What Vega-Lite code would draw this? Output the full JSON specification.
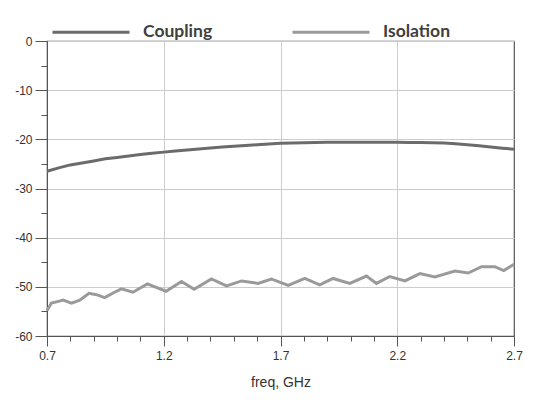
{
  "$schema": "https://vega.github.io/schema/vega-lite/v6.json",
  "width": 467,
  "height": 295,
  "autosize": {"type": "none"},
  "padding": {"left": 47, "top": 41, "right": 21, "bottom": 64},
  "background": "white",
  "config": {
    "view": {"stroke": "#555555", "strokeWidth": 1.2},
    "axis": {"labelFont": "Liberation Sans", "titleFont": "Liberation Sans", "labelColor": "#333333", "titleColor": "#333333", "domainColor": "#555555", "tickColor": "#555555", "gridColor": "#cccccc"},
    "legend": {"labelFont": "Lato", "labelFontWeight": "bold", "labelFontSize": 17.5, "labelColor": "#404040"}
  },
  "data": {
    "values": [
      {"f": 0.7, "v": -26.5, "s": "Coupling"},
      {"f": 0.75, "v": -25.8, "s": "Coupling"},
      {"f": 0.8, "v": -25.2, "s": "Coupling"},
      {"f": 0.85, "v": -24.8, "s": "Coupling"},
      {"f": 0.9, "v": -24.4, "s": "Coupling"},
      {"f": 0.95, "v": -23.95, "s": "Coupling"},
      {"f": 1.0, "v": -23.7, "s": "Coupling"},
      {"f": 1.05, "v": -23.4, "s": "Coupling"},
      {"f": 1.1, "v": -23.1, "s": "Coupling"},
      {"f": 1.15, "v": -22.85, "s": "Coupling"},
      {"f": 1.2, "v": -22.6, "s": "Coupling"},
      {"f": 1.25, "v": -22.35, "s": "Coupling"},
      {"f": 1.3, "v": -22.15, "s": "Coupling"},
      {"f": 1.35, "v": -21.95, "s": "Coupling"},
      {"f": 1.4, "v": -21.75, "s": "Coupling"},
      {"f": 1.45, "v": -21.55, "s": "Coupling"},
      {"f": 1.5, "v": -21.4, "s": "Coupling"},
      {"f": 1.55, "v": -21.25, "s": "Coupling"},
      {"f": 1.6, "v": -21.1, "s": "Coupling"},
      {"f": 1.65, "v": -20.95, "s": "Coupling"},
      {"f": 1.7, "v": -20.8, "s": "Coupling"},
      {"f": 1.75, "v": -20.75, "s": "Coupling"},
      {"f": 1.8, "v": -20.7, "s": "Coupling"},
      {"f": 1.85, "v": -20.62, "s": "Coupling"},
      {"f": 1.9, "v": -20.6, "s": "Coupling"},
      {"f": 2.0, "v": -20.6, "s": "Coupling"},
      {"f": 2.1, "v": -20.6, "s": "Coupling"},
      {"f": 2.2, "v": -20.6, "s": "Coupling"},
      {"f": 2.25, "v": -20.62, "s": "Coupling"},
      {"f": 2.3, "v": -20.65, "s": "Coupling"},
      {"f": 2.35, "v": -20.7, "s": "Coupling"},
      {"f": 2.4, "v": -20.75, "s": "Coupling"},
      {"f": 2.45, "v": -20.9, "s": "Coupling"},
      {"f": 2.5, "v": -21.1, "s": "Coupling"},
      {"f": 2.55, "v": -21.3, "s": "Coupling"},
      {"f": 2.6, "v": -21.55, "s": "Coupling"},
      {"f": 2.65, "v": -21.8, "s": "Coupling"},
      {"f": 2.7, "v": -22.0, "s": "Coupling"},
      {"f": 0.7, "v": -54.8, "s": "Isolation"},
      {"f": 0.719, "v": -53.3, "s": "Isolation"},
      {"f": 0.745, "v": -53.0, "s": "Isolation"},
      {"f": 0.769, "v": -52.7, "s": "Isolation"},
      {"f": 0.805, "v": -53.3, "s": "Isolation"},
      {"f": 0.84, "v": -52.7, "s": "Isolation"},
      {"f": 0.88, "v": -51.3, "s": "Isolation"},
      {"f": 0.912, "v": -51.6, "s": "Isolation"},
      {"f": 0.947, "v": -52.2, "s": "Isolation"},
      {"f": 0.985, "v": -51.2, "s": "Isolation"},
      {"f": 1.019, "v": -50.4, "s": "Isolation"},
      {"f": 1.068, "v": -51.1, "s": "Isolation"},
      {"f": 1.13, "v": -49.4, "s": "Isolation"},
      {"f": 1.21, "v": -50.9, "s": "Isolation"},
      {"f": 1.276, "v": -48.9, "s": "Isolation"},
      {"f": 1.33, "v": -50.5, "s": "Isolation"},
      {"f": 1.404, "v": -48.4, "s": "Isolation"},
      {"f": 1.469, "v": -49.8, "s": "Isolation"},
      {"f": 1.533, "v": -48.8, "s": "Isolation"},
      {"f": 1.604, "v": -49.3, "s": "Isolation"},
      {"f": 1.661, "v": -48.4, "s": "Isolation"},
      {"f": 1.733, "v": -49.7, "s": "Isolation"},
      {"f": 1.804, "v": -48.3, "s": "Isolation"},
      {"f": 1.868, "v": -49.6, "s": "Isolation"},
      {"f": 1.925, "v": -48.3, "s": "Isolation"},
      {"f": 1.997, "v": -49.3, "s": "Isolation"},
      {"f": 2.068, "v": -47.8, "s": "Isolation"},
      {"f": 2.111, "v": -49.3, "s": "Isolation"},
      {"f": 2.168, "v": -47.9, "s": "Isolation"},
      {"f": 2.233, "v": -48.8, "s": "Isolation"},
      {"f": 2.297, "v": -47.3, "s": "Isolation"},
      {"f": 2.361, "v": -48.0, "s": "Isolation"},
      {"f": 2.447, "v": -46.8, "s": "Isolation"},
      {"f": 2.504, "v": -47.2, "s": "Isolation"},
      {"f": 2.561, "v": -45.9, "s": "Isolation"},
      {"f": 2.618, "v": -45.9, "s": "Isolation"},
      {"f": 2.656, "v": -46.7, "s": "Isolation"},
      {"f": 2.7, "v": -45.4, "s": "Isolation"}
    ]
  },
  "mark": {"type": "line", "strokeWidth": 3, "interpolate": "linear"},
  "encoding": {
    "x": {
      "field": "f", "type": "quantitative",
      "scale": {"domain": [0.7, 2.7], "nice": false, "zero": false},
      "axis": {
        "title": "freq, GHz", "titleFontSize": 14, "titleFontWeight": "normal", "titlePadding": 14,
        "values": [0.7, 0.8, 0.9, 1.0, 1.1, 1.2, 1.3, 1.4, 1.5, 1.6, 1.7, 1.8, 1.9, 2.0, 2.1, 2.2, 2.3, 2.4, 2.5, 2.6, 2.7],
        "labelExpr": "indexof([0.7, 1.2, 1.7, 2.2, 2.7], datum.value) >= 0 ? format(datum.value, '.1f') : ''",
        "labelFontSize": 12, "labelOverlap": false, "labelPadding": 4, "labelFlush": false,
        "tickSize": {"condition": {"test": "indexof([0.7, 1.2, 1.7, 2.2, 2.7], datum.value) >= 0", "value": 10}, "value": 5},
        "gridOpacity": {"condition": {"test": "indexof([1.2, 1.7, 2.2], datum.value) >= 0", "value": 1}, "value": 0},
        "domainColor": "#555555"
      }
    },
    "y": {
      "field": "v", "type": "quantitative",
      "scale": {"domain": [-60, 0], "nice": false},
      "axis": {
        "title": null,
        "values": [0, -5, -10, -15, -20, -25, -30, -35, -40, -45, -50, -55, -60],
        "labelExpr": "datum.value % 10 === 0 ? toString(datum.value) : ''",
        "labelFontSize": 12, "labelOverlap": false, "labelPadding": 3, "labelFlush": false,
        "tickSize": {"condition": {"test": "datum.value % 10 === 0", "value": 12}, "value": 6},
        "gridOpacity": {"condition": {"test": "datum.value % 10 === 0", "value": 1}, "value": 0}
      }
    },
    "color": {
      "field": "s", "type": "nominal",
      "scale": {"domain": ["Coupling", "Isolation"], "range": ["#6b6b6b", "#9a9a9a"]},
      "legend": {
        "title": null, "orient": "none", "legendX": 4, "legendY": -49, "direction": "horizontal",
        "symbolType": "M-1,0H1", "symbolSize": 5929, "symbolStrokeWidth": 3,
        "labelOffset": 12, "columnPadding": 73
      }
    }
  }
}
